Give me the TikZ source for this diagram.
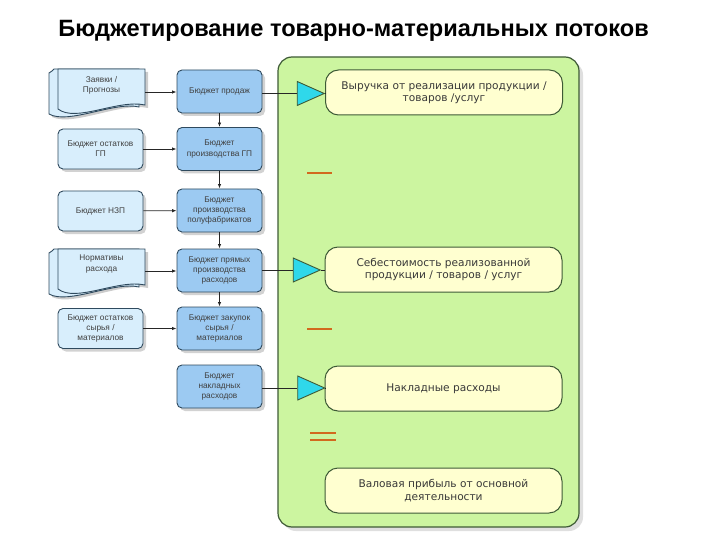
\documentclass[tikz,border=0pt]{standalone}
\usepackage{fontspec}
\setmainfont{Liberation Sans}
\newfontfamily\boxfont{DejaVu Sans}
\usetikzlibrary{shapes.geometric,shadows,arrows.meta}
\definecolor{lblue}{HTML}{D8EEFC}
\definecolor{mblue}{HTML}{9CCAF2}
\definecolor{bord}{HTML}{2F4A5E}
\definecolor{pgreen}{HTML}{CCF5A0}
\definecolor{gbord}{HTML}{3E5A36}
\definecolor{ybox}{HTML}{FFFFD0}
\definecolor{tcyan}{HTML}{2FD8EA}
\definecolor{opline}{HTML}{D2691E}
\begin{document}
\begin{tikzpicture}[x=1pt,y=-1pt,
  shad/.style={drop shadow={shadow xshift=3pt,shadow yshift=-3pt,fill=black!22,opacity=0.8}},
  bfont/.style={font=\fontsize{8.3}{10.2}\selectfont,text=black!75},
  lbox/.style={draw=bord,line width=0.9pt,fill=lblue,rounded corners=5pt,minimum width=85pt,minimum height=40pt,inner xsep=1pt,align=center,bfont,shad},
  mbox/.style={draw=bord,line width=0.9pt,fill=mblue,rounded corners=5pt,minimum width=85pt,minimum height=43pt,inner xsep=1pt,align=center,bfont,shad},
  ybx/.style={draw=gbord,line width=1pt,fill=ybox,rounded corners=13pt,minimum width=237pt,minimum height=45pt,align=center,font=\boxfont\fontsize{10.6}{12.5}\selectfont,text=black!78},
  tri/.style={isosceles triangle,isosceles triangle stretches,shape border rotate=0,minimum width=24pt,minimum height=27pt,inner sep=0pt,draw=gbord,line width=0.9pt,fill=tcyan},
  arr/.style={line width=0.8pt,draw=black!85,-{Latex[length=4.5pt,width=3.5pt]}},
  ln/.style={line width=0.8pt,draw=black!85},
  oper/.style={draw=opline,line width=2pt}
]
\useasboundingbox (0,0) rectangle (720,540);
% title
\node[font=\bfseries\fontsize{23.6}{26}\selectfont] (title) at (353.5,31) {Бюджетирование товарно-материальных потоков};
% green panel
\node[draw=gbord,line width=1.2pt,fill=pgreen,rounded corners=14pt,minimum width=301pt,minimum height=470pt,inner sep=0pt,drop shadow={shadow xshift=4pt,shadow yshift=-4pt,fill=black!25}] (panel) at (428.5,292) {};
% document shapes (left): x0 y0 x1 y1(bottom right)
\newcommand{\docshape}[4]{%
  \fill[black!20] (#1+3,#2+3) -- (#3+3,#2+3) -- (#3+3,#4+3) .. controls (#3-24,#4-3) and (#1+15,#4+22) .. (#1-6,#4+12) -- cycle;
  \filldraw[draw=bord,line width=0.9pt,fill=lblue] (#1-6,#2+2) -- (#1-4,#2) -- (#3-6,#2) -- (#3-6,#4+2) .. controls (#3-30,#4-4) and (#1+10,#4+20) .. (#1-9,#4+9) -- (#1-9,#2+4) -- cycle;
  \filldraw[draw=bord,line width=0.9pt,fill=lblue] (#1,#2) -- (#3,#2) -- (#3,#4) .. controls (#3-27,#4-6) and (#1+18,#4+18) .. (#1,#4+4) -- cycle;
}
\docshape{58}{69}{145}{105}
\docshape{58}{249}{145}{285}
\node[align=center,bfont] (d1) at (101.5,85) {Заявки /\\Прогнозы};
\node[align=center,bfont] (d2) at (101.5,264) {Нормативы\\расхода};
% left boxes
\node[lbox] (l2) at (100.5,149) {Бюджет остатков\\ГП};
\node[lbox] (l3) at (100.5,211) {Бюджет НЗП};
\node[lbox] (l5) at (100.5,328.5) {Бюджет остатков\\сырья /\\материалов};
% middle boxes
\node[mbox] (m1) at (219.5,91.5) {Бюджет продаж};
\node[mbox] (m2) at (219.5,149) {Бюджет\\производства ГП};
\node[mbox] (m3) at (219.5,210.5) {Бюджет\\производства\\полуфабрикатов};
\node[mbox] (m4) at (219.5,270.5) {Бюджет прямых\\производства\\расходов};
\node[mbox] (m5) at (219.5,328.5) {Бюджет закупок\\сырья /\\материалов};
\node[mbox] (m6) at (219.5,386.5) {Бюджет\\накладных\\расходов};
% arrows left -> middle
\draw[arr] (145,92) -- (m1.west |- 0,92);
\draw[arr] (l2) -- (m2);
\draw[arr] (l3) -- (m3);
\draw[arr] (145,271) -- (m4.west |- 0,271);
\draw[arr] (l5) -- (m5);
% vertical arrows
\draw[arr] (m1) -- (m2);
\draw[arr] (m2) -- (m3);
\draw[arr] (m3) -- (m4);
\draw[arr] (m4) -- (m5);
% yellow boxes
\node[ybx] (y1) at (444,92.5) {Выручка от реализации продукции /\\товаров /услуг};
\node[ybx] (y2) at (443.5,269.5) {Себестоимость реализованной\\продукции / товаров / услуг};
\node[ybx] (y3) at (443.5,388.5) {Накладные расходы};
\node[ybx] (y4) at (443.5,490.5) {Валовая прибыль от основной\\деятельности};
% triangles
\node[tri] (t1) at (305,93.5) {};
\node[tri] (t2) at (301,270) {};
\node[tri] (t3) at (305.5,388) {};
\draw[ln] (m1.east |- t1.west) -- (t1.west);
\draw[ln] (t1.east) -- (y1.west |- t1.east);
\draw[ln] (m4.east |- t2.west) -- (t2.west);
\draw[ln] (t2.east) -- (y2.west |- t2.east);
\draw[ln] (m6.east |- t3.west) -- (t3.west);
\draw[ln] (t3.east) -- (y3.west |- t3.east);
% operators
\draw[oper] (307,173) -- (332,173);
\draw[oper] (307,329) -- (332,329);
\draw[oper] (310,433) -- (336,433);
\draw[oper] (310,439.5) -- (336,439.5);
\end{tikzpicture}
\end{document}
